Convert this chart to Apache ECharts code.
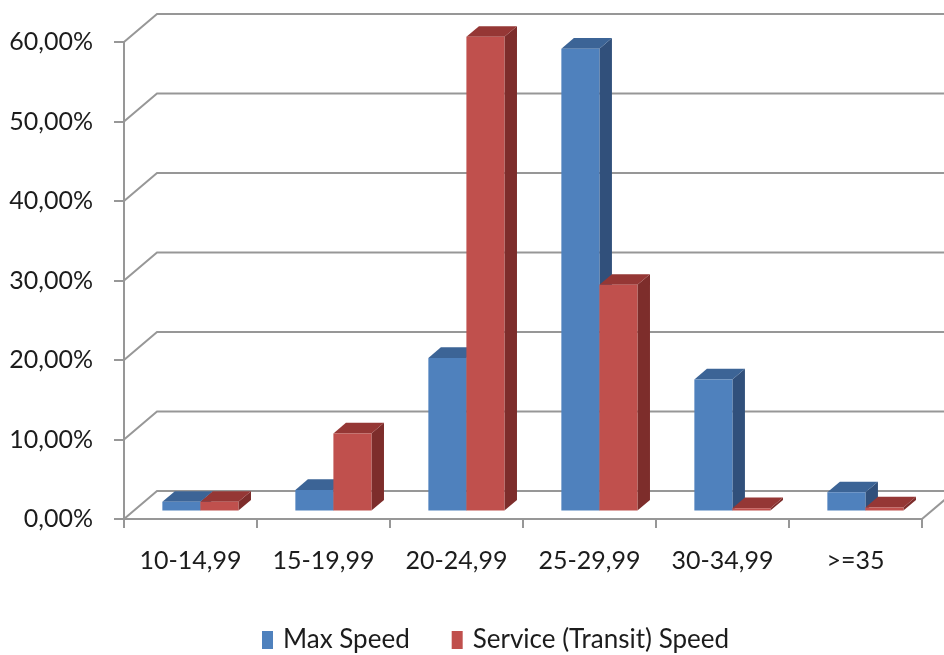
<!DOCTYPE html>
<html>
<head>
<meta charset="utf-8">
<script src="https://cdn.jsdelivr.net/npm/echarts@6/dist/echarts.min.js"></script>
<style>
  html, body { margin: 0; padding: 0; background: #fff; }
  #chart { width: 944px; height: 655px; }
</style>
</head>
<body>
<div id="chart"></div>
<script>
// Speed bands (km/h) and share of trips in each band, in percent
const categories = ['10-14,99', '15-19,99', '20-24,99', '25-29,99', '30-34,99', '>=35'];
const maxSpeed = [1.1, 2.6, 19.2, 58.1, 16.5, 2.3];
const serviceSpeed = [1.1, 9.7, 59.6, 28.4, 0.3, 0.4];
const yTicks = [0, 10, 20, 30, 40, 50, 60];
const yTickLabels = ['0,00%', '10,00%', '20,00%', '30,00%', '40,00%', '50,00%', '60,00%'];
const seriesNames = ['Max Speed', 'Service (Transit) Speed'];

// Oblique projection: back wall offset and bar depth placement
const WALL_DX = 33, WALL_DY = 28;
const BAR_FRONT = 0.3, BAR_BACK = 0.68;   // fraction of floor depth
const BAR_WIDTH = 0.286;                   // fraction of category band

const palette = [
  { front: '#4F81BD', top: '#3C6496', side: '#31507B' },
  { front: '#C0504D', top: '#953735', side: '#7D2D2B' }
];

const FONT = 'Lato';
const gridColor = '#979797';
const textColor = '#1c1c1c';

function barRenderer(seriesIdx) {
  const col = palette[seriesIdx];
  return function (params, api) {
    const i = api.value(0);
    const v = api.value(1);
    const band = api.size([1, 0])[0];
    const pTop = api.coord([i, v]);
    const pBase = api.coord([i, 0]);
    const fx = WALL_DX * BAR_FRONT, fy = WALL_DY * BAR_FRONT;
    const dx = WALL_DX * (BAR_BACK - BAR_FRONT), dy = WALL_DY * (BAR_BACK - BAR_FRONT);
    const w = band * BAR_WIDTH;
    const cx = pTop[0] + fx;
    const left = seriesIdx === 0 ? cx - w : cx;
    const right = left + w;
    const top = pTop[1] - fy;
    const bottom = pBase[1] - fy;
    return {
      type: 'group',
      children: [
        { type: 'polygon', shape: { points: [[right, top], [right, bottom], [right + dx, bottom - dy], [right + dx, top - dy]] },
          style: { fill: col.side } },
        { type: 'polygon', shape: { points: [[left, top], [right, top], [right + dx, top - dy], [left + dx, top - dy]] },
          style: { fill: col.top } },
        { type: 'rect', shape: { x: left, y: top, width: w, height: bottom - top },
          style: { fill: col.front } }
      ]
    };
  };
}

function wallRenderer(params, api) {
  const v = api.value(1);
  const band = api.size([1, 0])[0];
  const p0 = api.coord([0, v]);
  const pN = api.coord([categories.length - 1, v]);
  const x0 = p0[0] - band / 2;
  const xN = pN[0] + band / 2;
  const y = p0[1];
  const children = [
    { type: 'polyline', shape: { points: [[x0, y], [x0 + WALL_DX, y - WALL_DY], [xN + WALL_DX, y - WALL_DY]] },
      style: { stroke: gridColor, lineWidth: 2, fill: null } }
  ];
  if (v === 0) {
    children.push({ type: 'line', shape: { x1: xN, y1: y, x2: xN + WALL_DX, y2: y - WALL_DY },
      style: { stroke: gridColor, lineWidth: 2 } });
  }
  return { type: 'group', children: children };
}

const chart = echarts.init(document.getElementById('chart'), null, { renderer: 'canvas' });
chart.setOption({
  animation: false,
  backgroundColor: '#fff',
  color: [palette[0].front, palette[1].front],
  grid: { left: 124, right: 22, top: 42, bottom: 136, containLabel: false },
  legend: {
    left: 257, top: 622,
    icon: 'rect', itemWidth: 11, itemHeight: 18, itemGap: 42,
    data: seriesNames,
    textStyle: { fontFamily: FONT, fontSize: 26, color: textColor, padding: [0, 0, 0, 5] }
  },
  xAxis: {
    type: 'category',
    data: categories,
    boundaryGap: true,
    axisLine: { show: true, lineStyle: { color: gridColor, width: 2 } },
    axisTick: { show: true, interval: 0, length: 9, lineStyle: { color: gridColor, width: 2 } },
    axisLabel: { interval: 0, margin: 29, fontFamily: FONT, fontSize: 25, color: textColor },
    splitLine: { show: false }
  },
  yAxis: {
    type: 'value',
    min: yTicks[0], max: yTicks[yTicks.length - 1], interval: yTicks[1] - yTicks[0],
    axisLine: { show: true, lineStyle: { color: gridColor, width: 2 } },
    axisTick: { show: true, length: 10, lineStyle: { color: gridColor, width: 2 } },
    axisLabel: {
      margin: 31, fontFamily: FONT, fontSize: 25, color: textColor,
      formatter: function (val) { const k = yTicks.indexOf(val); return k >= 0 ? yTickLabels[k] : ''; }
    },
    splitLine: { show: false }
  },
  series: [
    {
      name: '__wall', type: 'custom', silent: true, z: 1,
      data: yTicks.map(function (t) { return [0, t]; }),
      renderItem: wallRenderer
    },
    {
      name: seriesNames[0], type: 'custom', z: 2,
      itemStyle: { color: palette[0].front },
      data: maxSpeed.map(function (v, i) { return [i, v]; }),
      encode: { x: 0, y: 1 },
      renderItem: barRenderer(0)
    },
    {
      name: seriesNames[1], type: 'custom', z: 3,
      itemStyle: { color: palette[1].front },
      data: serviceSpeed.map(function (v, i) { return [i, v]; }),
      encode: { x: 0, y: 1 },
      renderItem: barRenderer(1)
    }
  ]
});
</script>
</body>
</html>
